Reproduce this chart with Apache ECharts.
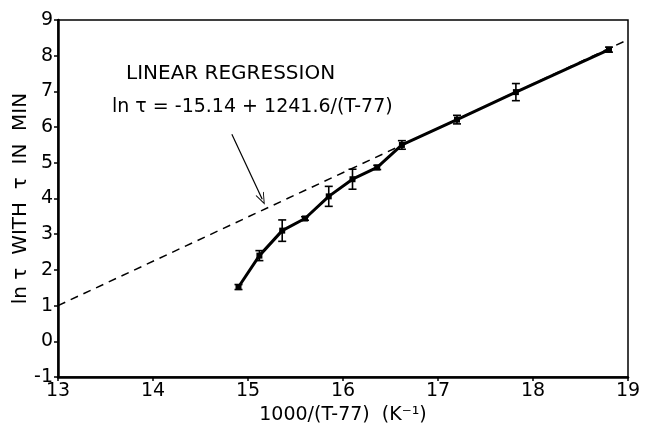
<!DOCTYPE html>
<html>
<head>
<meta charset="utf-8">
<script src="https://cdn.jsdelivr.net/npm/echarts@6/dist/echarts.min.js"></script>
<style>
  html, body { margin: 0; padding: 0; background: #fff; }
  #chart { width: 648px; height: 429px; }
</style>
</head>
<body>
<div id="chart"></div>
<script>
// data
var xVals = [14.9, 15.12, 15.36, 15.6, 15.85, 16.1, 16.36, 16.62, 17.2, 17.82, 18.8];
var lnTau = [1.52, 2.40, 3.10, 3.44, 4.06, 4.54, 4.87, 5.50, 6.21, 6.98, 8.17];
var errBar = [0.07, 0.14, 0.30, 0.05, 0.28, 0.28, 0.06, 0.12, 0.12, 0.24, 0.07];
// regression line ends (ln tau = -15.14 + 1.2416 x)
var regX = [13, 19];
var regY = [1.0, 8.45];
// arrow of the annotation, in data units
var arrowFrom = [14.83, 5.8];
var arrowTo = [15.15, 3.98];

var font = 'DejaVu Sans';
var points = xVals.map(function (x, i) { return [x, lnTau[i]]; });
var errData = xVals.map(function (x, i) { return [x, lnTau[i] - errBar[i], lnTau[i] + errBar[i]]; });
var regData = regX.map(function (x, i) { return [x, regY[i]]; });

var myChart = echarts.init(document.getElementById('chart'));

var option = {
    animation: false,
    grid: {
        left: 58, right: 20, top: 20, bottom: 52,
        outerBoundsMode: 'none',
        show: true, borderColor: '#000', borderWidth: 1.5
    },
    xAxis: {
        type: 'value', min: 13, max: 19, interval: 1,
        name: '1000/(T-77)  (K\u207B\u00B9)',
        nameLocation: 'middle', nameGap: 28,
        nameTextStyle: { color: '#000', fontFamily: font, fontSize: 19 },
        axisLine: { onZero: false, lineStyle: { color: '#000', width: 2.5 } },
        axisTick: { inside: false, length: 4, lineStyle: { color: '#000', width: 1.5 } },
        axisLabel: { color: '#000', fontFamily: font, fontSize: 19, margin: 5 },
        splitLine: { show: false }
    },
    yAxis: {
        type: 'value', min: -1, max: 9, interval: 1,
        name: 'ln \u03C4  WITH  \u03C4  IN  MIN',
        nameLocation: 'middle', nameGap: 27, nameRotate: 90,
        nameMoveOverlap: false,
        nameTextStyle: { color: '#000', fontFamily: font, fontSize: 20 },
        axisLine: { onZero: false, lineStyle: { color: '#000', width: 2.5 } },
        axisTick: { inside: false, length: 4, lineStyle: { color: '#000', width: 1.5 } },
        axisLabel: { color: '#000', fontFamily: font, fontSize: 19, margin: 5 },
        splitLine: { show: false }
    },
    series: [
        {
            // linear regression, dashed
            type: 'line',
            data: regData,
            symbol: 'none',
            lineStyle: { color: '#000', width: 1.5, type: [8, 6] },
            z: 1,
            markLine: {
                silent: true,
                symbol: ['none', 'path://M0,0 L5,11 L4,11 L0,2.5 L-4,11 L-5,11 Z'],
                symbolSize: [9, 12],
                lineStyle: { color: '#000', width: 1.2, type: 'solid' },
                label: { show: false },
                data: [[{ coord: arrowFrom }, { coord: arrowTo }]]
            }
        },
        {
            type: 'line',
            data: points,
            symbol: 'rect',
            symbolSize: 6,
            itemStyle: { color: '#000' },
            lineStyle: { color: '#000', width: 3 },
            z: 3
        },
        {
            type: 'custom',
            data: errData,
            z: 4,
            renderItem: function (params, api) {
                var x = api.value(0);
                var lo = api.coord([x, api.value(1)]);
                var hi = api.coord([x, api.value(2)]);
                var cap = 4;
                var st = { stroke: '#000', lineWidth: 1.6 };
                return {
                    type: 'group',
                    children: [
                        { type: 'line', shape: { x1: lo[0], y1: lo[1], x2: hi[0], y2: hi[1] }, style: st },
                        { type: 'line', shape: { x1: lo[0] - cap, y1: lo[1], x2: lo[0] + cap, y2: lo[1] }, style: st },
                        { type: 'line', shape: { x1: hi[0] - cap, y1: hi[1], x2: hi[0] + cap, y2: hi[1] }, style: st }
                    ]
                };
            }
        }
    ],
    graphic: [
        {
            type: 'text', left: 126, top: 64,
            style: { text: 'LINEAR REGRESSION', fill: '#000', font: '20px "DejaVu Sans"' }
        },
        {
            type: 'text', left: 112, top: 98,
            style: { text: 'ln \u03C4 = -15.14 + 1241.6/(T-77)', fill: '#000', font: '19px "DejaVu Sans"' }
        }
    ]
};

myChart.setOption(option);
</script>
</body>
</html>
